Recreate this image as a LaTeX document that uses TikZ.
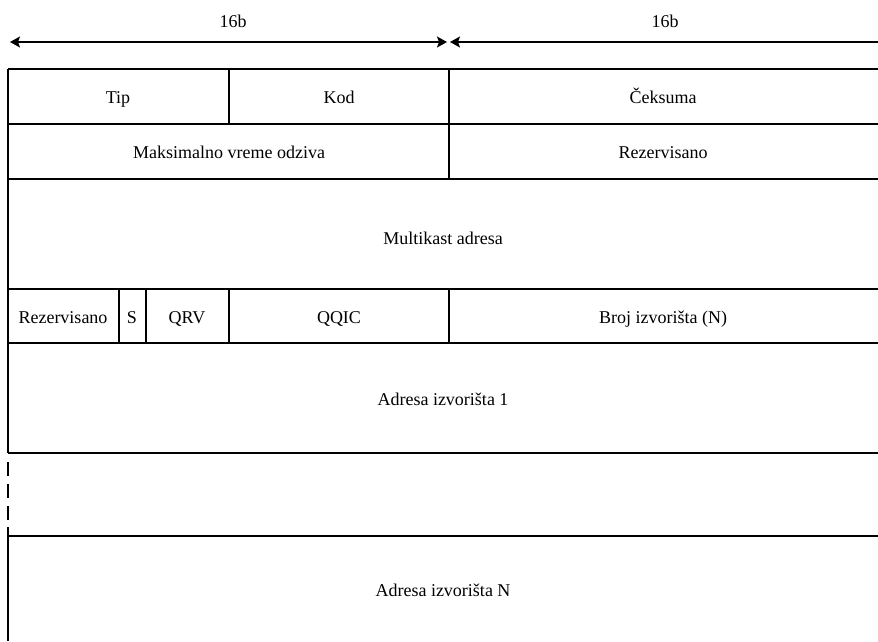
\documentclass[tikz,border=0pt]{standalone}
\usepackage{fontspec}
\setmainfont{Liberation Serif}
\newfontfamily\fieldfont{Liberation Serif}
\usetikzlibrary{arrows.meta}
\begin{document}
\begin{tikzpicture}[x=1pt,y=-1pt,
  grid/.style={line width=1.6pt, black},
  field/.style={inner sep=0pt, anchor=base, font=\fieldfont\fontsize{18}{22}\selectfont},
  span/.style={line width=1.5pt, {Stealth[length=10pt,width=11pt,inset=2pt]}-{Stealth[length=10pt,width=11pt,inset=2pt]}}
]
\useasboundingbox (0,0) rectangle (878,641);

% bit-width markers
\coordinate (aL) at (10,42);
\coordinate (aM) at (447,42);
\coordinate (bM) at (450,42);
\coordinate (bR) at (878,42);
\draw[span] (aL) -- (aM);
\draw[line width=1.5pt, {Stealth[length=10pt,width=11pt,inset=2pt]}-] (bM) -- (bR);
\node[field] (w1) at (233,27) {16b};
\node[field] (w2) at (665,27) {16b};

% row separators
\foreach \yy in {69,124,179,289,343,453,536}
  \draw[grid] (8,\yy) -- (878,\yy);

% left edge (dashed across the omitted source addresses)
\draw[grid] (8,69) -- (8,453);
\draw[grid, dash pattern=on 14pt off 8pt] (8,462) -- (8,520);
\draw[grid] (8,527) -- (8,641);

% column dividers
\draw[grid] (229,69) -- (229,124);
\draw[grid] (449,69) -- (449,179);
\draw[grid] (119,289) -- (119,343);
\draw[grid] (146,289) -- (146,343);
\draw[grid] (229,289) -- (229,343);
\draw[grid] (449,289) -- (449,343);

% field labels
\node[field] (tip)  at (118,103) {Tip};
\node[field] (kod)  at (339,103) {Kod};
\node[field] (cks)  at (663,103) {Čeksuma};
\node[field] (mvo)  at (229,158) {Maksimalno vreme odziva};
\node[field] (rz1)  at (663,158) {Rezervisano};
\node[field] (mca)  at (443,244) {Multikast adresa};
\node[field] (rz2)  at (63,323)  {Rezervisano};
\node[field] (sfl)  at (132,323) {S};
\node[field] (qrv)  at (187,323) {QRV};
\node[field] (qqic) at (339,323) {QQIC};
\node[field] (nsrc) at (663,323) {Broj izvorišta (N)};
\node[field] (src1) at (443,405) {Adresa izvorišta 1};
\node[field] (srcN) at (443,596) {Adresa izvorišta N};
\end{tikzpicture}
\end{document}
